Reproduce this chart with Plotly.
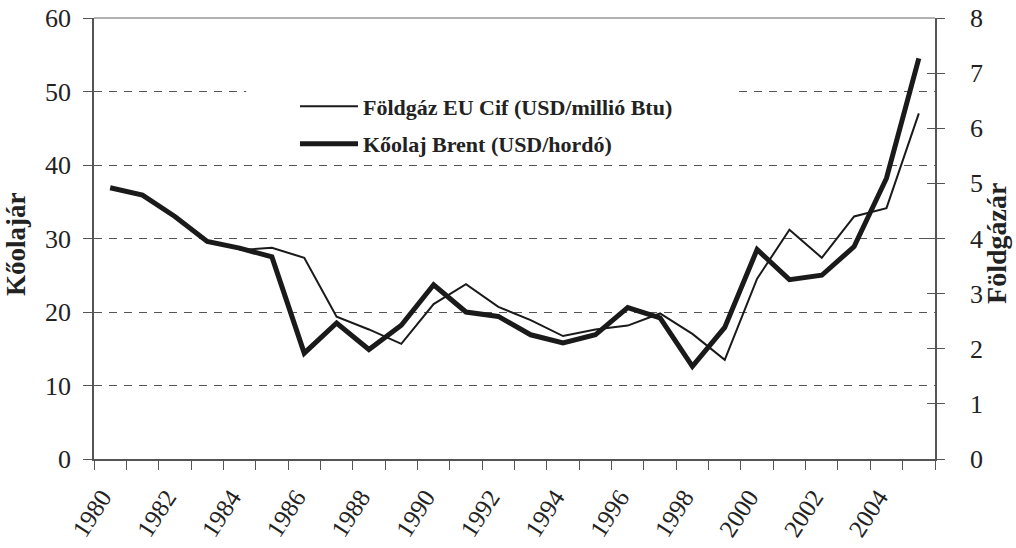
import plotly.graph_objects as go

years = list(range(1980, 2006))
oil_brent = [36.9, 35.9, 33.0, 29.6, 28.7, 27.5, 14.4, 18.5, 14.9, 18.2, 23.7, 20.0,
             19.4, 16.9, 15.8, 16.9, 20.6, 19.2, 12.6, 17.9, 28.5, 24.4, 25.0, 28.9,
             38.2, 54.5]
gas_eu = [None, None, None, None, 3.79, 3.83, 3.65, 2.58, 2.35, 2.09, 2.81, 3.17,
          2.76, 2.52, 2.23, 2.35, 2.42, 2.64, 2.27, 1.80, 3.27, 4.16, 3.65, 4.40,
          4.55, 6.27]
label_years = list(range(1980, 2006, 2))
boundaries = [y - 0.5 for y in range(1980, 2007)]

FONT = "Liberation Serif, Times New Roman, serif"
INK = "#1a1a1a"
TXT = "#222222"
AX = "#555555"

fig = go.Figure()
fig.add_trace(go.Scatter(x=years, y=gas_eu, yaxis="y2", mode="lines",
                         name="Földgáz EU Cif (USD/millió Btu)", legendgroup="g",
                         line=dict(color=INK, width=2), connectgaps=False))
fig.add_trace(go.Scatter(x=years, y=oil_brent, yaxis="y", mode="lines",
                         name="Kőolaj Brent (USD/hordó)", legendgroup="o",
                         line=dict(color=INK, width=5)))
# invisible trace to activate the inside-tick axis
fig.add_trace(go.Scatter(x=[1980], y=[0], yaxis="y3", mode="markers",
                         marker=dict(opacity=0), showlegend=False, hoverinfo="skip"))

fig.update_layout(
    width=1016, height=548,
    margin=dict(l=94, r=81, t=18, b=89, autoexpand=False),
    paper_bgcolor="white", plot_bgcolor="white",
    font=dict(family=FONT, color=TXT),
    showlegend=True,
    legend=dict(x=0.239, y=0.847, xanchor="left", yanchor="top",
                bgcolor="rgba(0,0,0,0)", borderwidth=0,
                traceorder="grouped", tracegroupgap=6, itemwidth=58,
                font=dict(family=FONT, size=22, color=TXT, weight="bold")),
    xaxis=dict(range=[1979.5, 2005.5], tickmode="array", tickvals=label_years,
               ticktext=[str(v) for v in label_years], tickangle=-57,
               ticks="", showgrid=False, zeroline=False,
               showline=True, linecolor=AX, linewidth=1.5,
               tickfont=dict(size=25, family=FONT, color=TXT),
               ticklabelstandoff=12, ticklabelshift=-8,
               minor=dict(tickmode="array", tickvals=boundaries, ticks="outside",
                          ticklen=9, tickcolor=AX, tickwidth=1.2, showgrid=False)),
    yaxis=dict(range=[0, 60], tickmode="linear", tick0=0, dtick=10,
               showgrid=True, gridcolor="#555555", gridwidth=1, griddash="8px,7px",
               zeroline=False, showline=True, linecolor=AX, linewidth=1.5,
               ticks="outside", ticklen=9, tickcolor=AX, tickwidth=1.2,
               tickfont=dict(size=26, family=FONT, color=TXT), ticklabelstandoff=7),
    yaxis2=dict(range=[0, 8], tickmode="linear", tick0=0, dtick=1,
                overlaying="y", side="right", anchor="x",
                showgrid=False, zeroline=False, showline=True, linecolor=AX, linewidth=1.5,
                ticks="outside", ticklen=8, tickcolor=AX, tickwidth=1.2,
                tickfont=dict(size=26, family=FONT, color=TXT), ticklabelstandoff=20),
    yaxis3=dict(range=[0, 8], tickmode="linear", tick0=0, dtick=1,
                overlaying="y", side="right", anchor="x",
                showgrid=False, zeroline=False, showline=False,
                ticks="inside", ticklen=8, tickcolor=AX, tickwidth=1.2,
                showticklabels=False),
    annotations=[
        dict(text="Kőolajár", xref="paper", yref="paper", x=-0.093, y=0.487,
             textangle=-90, showarrow=False, xanchor="center", yanchor="middle",
             font=dict(size=27, family=FONT, color=TXT, weight="bold")),
        dict(text="Földgázár", xref="paper", yref="paper", x=1.0737, y=0.49,
             textangle=-90, showarrow=False, xanchor="center", yanchor="middle",
             font=dict(size=28, family=FONT, color=TXT, weight="bold")),
    ],
    shapes=[
        dict(type="line", xref="paper", yref="paper", x0=0, x1=1, y0=1, y1=1,
             line=dict(color="#999999", width=1.5), layer="above"),
        dict(type="rect", xref="paper", yref="y", x0=0.181, x1=0.760, y0=46, y1=54,
             fillcolor="white", line=dict(width=0), layer="above"),
    ],
)

fig.write_html("out.html", config={"displayModeBar": False},
               post_script="document.body.style.margin='0';document.body.style.overflow='hidden';")
